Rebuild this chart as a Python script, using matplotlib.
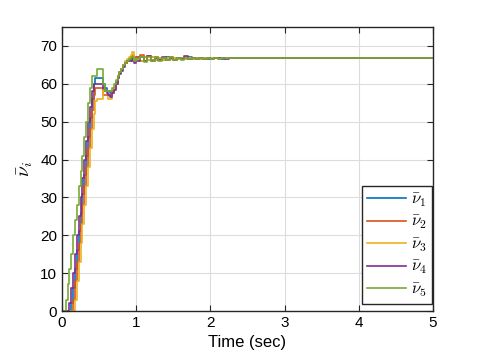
import numpy as np
import matplotlib.pyplot as plt

plt.rcParams['font.family'] = ['Liberation Sans', 'DejaVu Sans']
plt.rcParams['mathtext.fontset'] = 'cm'

# sample times (s): fine grid over the transient, coarser afterwards, then held to 5 s
t = np.round(np.concatenate([np.arange(0, 1.0001, 0.025), np.arange(1.05, 2.5001, 0.05)]), 3)
t_end = 5.0

nu1 = [0, 0, 0, 0, 0, 2, 6, 11, 16, 21, 26, 31, 36, 41, 46, 51, 56, 60, 61.5, 61.5,
       61.5, 61.5, 60, 59, 58, 58, 57.5, 58, 59, 60.5, 62, 63, 64, 65, 65.5, 66, 66.5,
       67, 66.5, 66, 67,
       66, 67.2, 66.2, 67, 66.3, 66.9, 66.4, 67.1, 66.5, 66.9, 66.5, 66.9, 66.6, 67.2,
       66.6, 66.8, 66.6, 66.8, 66.6, 66.8, 66.7, 66.8, 66.6, 66.8, 66.7, 66.7, 66.8,
       66.7, 66.7, 66.7]
nu2 = [0, 0, 0, 0, 0, 0, 3, 8, 13, 18, 23, 28, 33, 38, 43, 48, 53, 57, 59, 59,
       59, 59, 57, 57, 57, 57, 57, 58, 59, 60, 61.5, 63, 64, 65, 65.5, 66, 66.5,
       67, 67.5, 66, 67,
       67.5, 66, 67.4, 66.2, 67.2, 66.4, 66.9, 66.5, 67.2, 66.5, 66.9, 66.6, 66.9,
       66.6, 66.8, 66.6, 66.9, 66.6, 66.8, 66.7, 66.8, 66.6, 66.8, 66.7, 66.8, 66.7,
       66.7, 66.7, 66.7, 66.7]
nu3 = [0, 0, 0, 0, 0, 0, 0, 3, 8, 13, 18, 23, 28, 33, 38, 43, 48, 52, 55.5, 56,
       56, 56, 58, 58, 58, 56, 56, 57.5, 59, 60, 61.5, 63, 64, 65, 66, 66.5, 67,
       67.5, 68.5, 66, 66.5,
       66, 67, 66.2, 67, 66.3, 66.9, 66.4, 66.9, 66.5, 66.9, 66.5, 66.8, 66.6, 66.8,
       66.6, 66.8, 66.6, 66.8, 66.7, 66.7, 66.8, 66.7, 66.7, 66.7, 66.7, 66.7, 66.7,
       66.7, 66.7, 66.7]
nu4 = [0, 0, 0, 0, 2, 6, 10, 15, 20, 25, 30, 35, 40, 45, 50, 54, 58, 60, 60, 60,
       60, 60, 59, 58, 57.5, 57, 56.5, 57.5, 58.5, 60, 61.5, 62.5, 63.5, 64.5, 65.5,
       66, 66, 66.5, 66, 65.5, 66,
       67, 66, 67.3, 66, 66.9, 66.2, 67, 66.4, 66.9, 66.3, 66.9, 66.5, 67.3, 66.5,
       66.8, 66.6, 66.9, 66.5, 66.8, 66.6, 66.8, 66.7, 66.8, 66.6, 66.7, 66.7, 66.7,
       66.7, 66.7, 66.7]
nu5 = [0, 0, 3, 7, 11, 15, 20, 24, 28, 33, 37, 41, 46, 50, 55, 59, 62, 62, 62, 64,
       64, 64, 60, 58, 58, 58, 58, 59, 60, 61, 62, 63, 64, 65, 65.5, 66, 66.5, 67,
       67, 66, 66.5,
       67, 65.8, 67, 66, 67, 66.1, 66.9, 66.2, 67, 66.3, 66.9, 66.4, 66.9, 66.5, 66.8,
       66.5, 66.8, 66.6, 66.8, 66.6, 66.8, 66.6, 66.8, 66.7, 66.7, 66.7, 66.8, 66.7,
       66.7, 66.7]

series = [nu1, nu2, nu3, nu4, nu5]
colors = ['#0072BD', '#D95319', '#EDB120', '#7E2F8E', '#77AC30']
labels = [r'$\bar{\nu}_1$', r'$\bar{\nu}_2$', r'$\bar{\nu}_3$', r'$\bar{\nu}_4$', r'$\bar{\nu}_5$']

fig = plt.figure(figsize=(4.78, 3.59), dpi=100)
ax = fig.add_axes([0.1297, 0.1337, 0.776, 0.791])

for y, c, lab in zip(series, colors, labels):
    ax.plot(list(t) + [t_end], y + [y[-1]], drawstyle='steps-post', color=c, lw=1.2, label=lab)

ax.set_xlim(0, 5)
ax.set_ylim(0, 75)
ax.set_xticks(range(6))
ax.set_yticks(range(0, 71, 10))
ax.grid(True, color='#dcdcdc', lw=0.8)
ax.set_axisbelow(True)
ax.tick_params(direction='in', top=True, right=True, labelsize=11, length=4, color='#262626')
for s in ax.spines.values():
    s.set_color('#262626')
    s.set_linewidth(1.0)
ax.set_xlabel('Time (sec)', fontsize=12)
ax.set_ylabel(r'$\bar{\nu}_i$', fontsize=14)

leg = ax.legend(loc='lower right', bbox_to_anchor=(0.998, 0.025), borderaxespad=0,
                fontsize=12, fancybox=False, edgecolor='#262626', framealpha=1,
                handlelength=2.3, labelspacing=0.3, handletextpad=0.3, borderpad=0.3)
leg.get_frame().set_linewidth(1.0)

fig.savefig('out.png', dpi=100)
